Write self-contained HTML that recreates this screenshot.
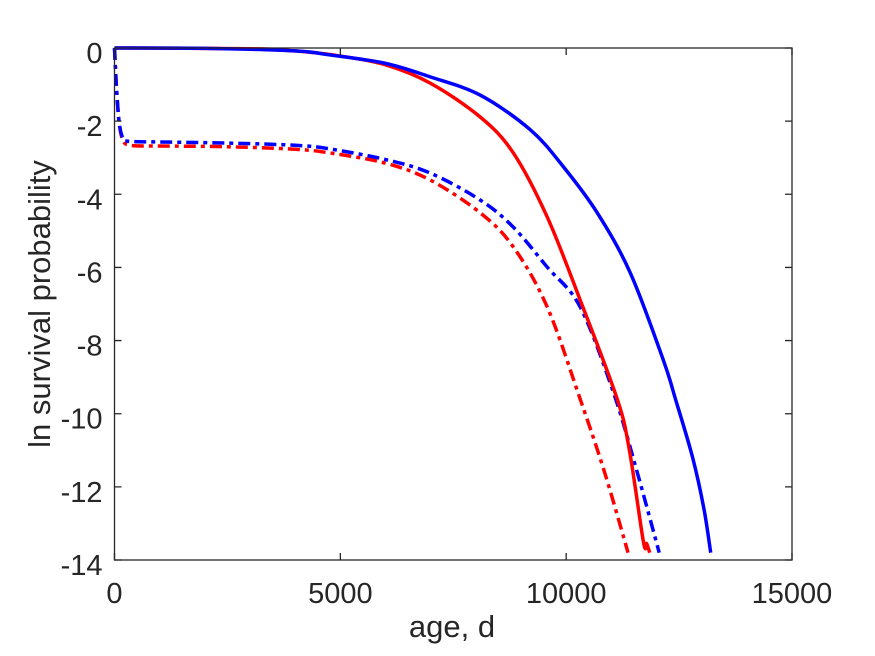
<!DOCTYPE html>
<html><head><meta charset="utf-8"><style>
html,body{margin:0;padding:0;background:#fff;}
svg{display:block;font-family:"Liberation Sans",Arial,sans-serif;}
</style></head><body>
<svg id="chart" width="875" height="656" viewBox="0 0 875 656">
<rect width="875" height="656" fill="#fff"/>
<g id="series"></g>
<g id="axes"></g>
<text x="452" y="637" font-size="31" fill="#262626" text-anchor="middle">age, d</text>
<text transform="translate(50,304) rotate(-90)" font-size="31" fill="#262626" text-anchor="middle">ln survival probability</text>
</svg>
<script>
const xTicks=[0,5000,10000,15000];
const yTicks=[0,-2,-4,-6,-8,-10,-12,-14];
const blueSolidX=[0,2000,4000,4770,6000,6990,8100,9210,9940,10690,11420,12150,12420,12800,13050,13200];
const blueSolidY=[0,-0.01,-0.08,-0.19,-0.42,-0.79,-1.29,-2.24,-3.25,-4.51,-6.15,-8.53,-9.6,-11.2,-12.6,-13.8];
const redSolidX=[0,3000,4000,5000,6000,6990,8100,8830,9580,10310,11130,11400,11710,11780,11850];
const redSolidY=[0,-0.02,-0.08,-0.22,-0.46,-0.96,-1.89,-2.87,-4.62,-6.89,-9.6,-11,-13.5,-13.55,-13.8];
const blueDashX=[0,40,100,180,300,1000,2500,4000,4770,6000,6990,8100,8830,9580,10310,11050,11550,12060];
const blueDashY=[0,-1,-2,-2.45,-2.55,-2.57,-2.6,-2.66,-2.76,-3.05,-3.42,-4.16,-4.9,-5.99,-7.08,-9.43,-11.5,-13.8];
const redDashX=[0,40,100,180,350,1000,2500,4000,4770,6000,6990,8100,8830,9580,10310,10850,11370];
const redDashY=[0,-1,-2,-2.5,-2.66,-2.68,-2.7,-2.77,-2.87,-3.15,-3.61,-4.51,-5.44,-7.08,-9.6,-11.6,-13.8];

const L=114.5,R=792,T=48,B=560;
const sx=v=>L+(v-0)/15000*(R-L);
const sy=v=>T+(0-v)/14*(B-T);
const NS="http://www.w3.org/2000/svg";
const ser=document.getElementById('series'), ax=document.getElementById('axes');

function smoothPath(xs,ys){
  const p=xs.map((x,i)=>[sx(x),sy(ys[i])]);
  let d=`M${p[0][0]},${p[0][1]}`;
  for(let i=0;i<p.length-1;i++){
    const p0=p[i-1]||p[i],p1=p[i],p2=p[i+1],p3=p[i+2]||p2;
    const c1=[p1[0]+(p2[0]-p0[0])/6,p1[1]+(p2[1]-p0[1])/6];
    const c2=[p2[0]-(p3[0]-p1[0])/6,p2[1]-(p3[1]-p1[1])/6];
    d+=`C${c1[0]},${c1[1]} ${c2[0]},${c2[1]} ${p2[0]},${p2[1]}`;
  }
  return d;
}
function line(xs,ys,color,dash,name){
  const el=document.createElementNS(NS,'path');
  el.setAttribute('d',smoothPath(xs,ys));
  el.setAttribute('fill','none');
  el.setAttribute('stroke',color);
  el.setAttribute('stroke-width','3.5');
  if(dash) el.setAttribute('stroke-dasharray',dash);
  
  
  ser.appendChild(el);
}
line(redDashX,redDashY,'#ff0000','12,5,4,5','red-dashdot-line');
line(blueDashX,blueDashY,'#0000ff','12,5,4,5','blue-dashdot-line');
line(redSolidX,redSolidY,'#ff0000','','red-solid-line');
line(blueSolidX,blueSolidY,'#0000ff','','blue-solid-line');

const box=document.createElementNS(NS,'rect');
box.setAttribute('x',L);box.setAttribute('y',T);box.setAttribute('width',R-L);box.setAttribute('height',B-T);
box.setAttribute('fill','none');box.setAttribute('stroke','#262626');box.setAttribute('stroke-width','1.3');


ax.appendChild(box);

xTicks.forEach(v=>{
  const x=sx(v);
  const t=document.createElementNS(NS,'path');
  t.setAttribute('d',`M${x},${B}V${B-7}M${x},${T}V${T+7}`);
  t.setAttribute('stroke','#262626');t.setAttribute('stroke-width','1.3');
  
  
  ax.appendChild(t);
  const lb=document.createElementNS(NS,'text');
  lb.setAttribute('x',x);lb.setAttribute('y',B+43);
  lb.setAttribute('font-size','29');lb.setAttribute('fill','#262626');lb.setAttribute('text-anchor','middle');
  lb.textContent=v;
  
  
  ax.appendChild(lb);
});
yTicks.forEach(v=>{
  const y=sy(v);
  const t=document.createElementNS(NS,'path');
  t.setAttribute('d',`M${L},${y}H${L+7}M${R},${y}H${R-7}`);
  t.setAttribute('stroke','#262626');t.setAttribute('stroke-width','1.3');
  
  
  ax.appendChild(t);
  const lb=document.createElementNS(NS,'text');
  lb.setAttribute('x',L-12);lb.setAttribute('y',y+15);
  lb.setAttribute('font-size','29');lb.setAttribute('fill','#262626');lb.setAttribute('text-anchor','end');
  lb.textContent=v;
  
  
  ax.appendChild(lb);
});
</script>
</body></html>
